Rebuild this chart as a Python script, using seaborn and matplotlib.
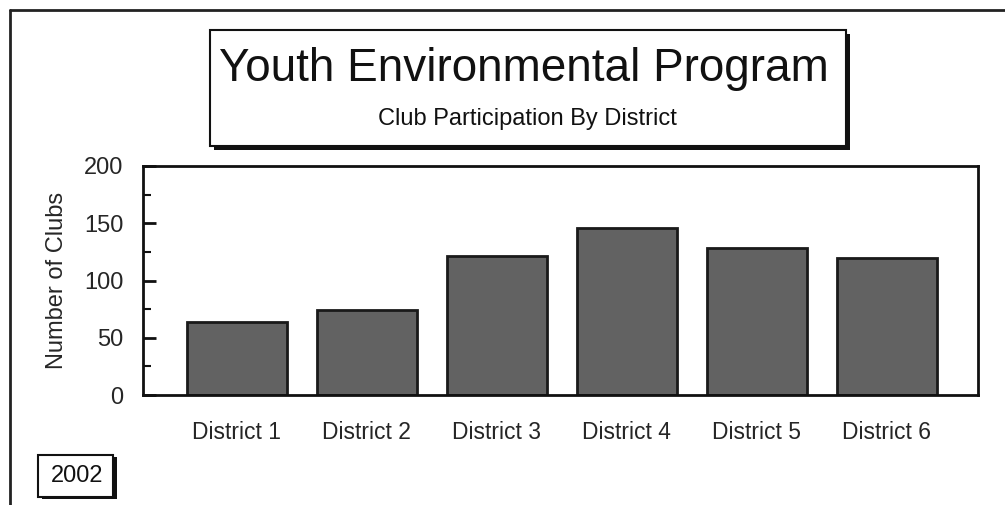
import pandas as pd
import seaborn as sns
import matplotlib.pyplot as plt
from matplotlib.patches import Rectangle
from matplotlib.lines import Line2D
from matplotlib.ticker import MultipleLocator

# values
districts = ["District 1", "District 2", "District 3", "District 4", "District 5", "District 6"]
clubs = [64, 74, 121, 146, 128, 120]

data = pd.DataFrame({"district": districts, "clubs": clubs})

sns.set_style("white")
plt.rcParams["font.family"] = ["Liberation Sans", "DejaVu Sans"]

fig = plt.figure(figsize=(10.05, 5.05), dpi=100)
ax = fig.add_axes([0.1423, 0.2178, 0.8307, 0.4535])

sns.barplot(x="district", y="clubs", data=data, color="#626262", saturation=1,
            width=0.77, edgecolor="#1a1a1a", linewidth=2, ax=ax)

ax.set_ylim(0, 200)
ax.set_xlim(-0.72, 5.7)
ax.yaxis.set_major_locator(MultipleLocator(50))
ax.yaxis.set_minor_locator(MultipleLocator(25))
ax.tick_params(axis="y", which="major", direction="in", length=9, width=2,
               labelsize=17, pad=14, left=True, color="#111111")
ax.tick_params(axis="y", which="minor", direction="in", length=6, width=1.5,
               left=True, color="#111111")
ax.tick_params(axis="x", length=0, labelsize=16.5, pad=19)
for s in ax.spines.values():
    s.set_color("#111111")
    s.set_linewidth(2)

ax.set_xlabel("")
ax.set_ylabel("Number of Clubs", fontsize=17, labelpad=12)

# outer frame lines (top and left)
fig.add_artist(Line2D([0.01, 1.0], [0.98, 0.98], color="#222222", lw=2, transform=fig.transFigure))
fig.add_artist(Line2D([0.01, 0.01], [0.0, 0.98], color="#222222", lw=2, transform=fig.transFigure))

# title box with shadow
W, H = 1005, 505
fig.add_artist(Rectangle((214 / W, 1 - 150 / H), 636 / W, 116 / H, facecolor="#111111",
                         edgecolor="none", transform=fig.transFigure))
fig.add_artist(Rectangle((210 / W, 1 - 146 / H), 636 / W, 116 / H, facecolor="white",
                         edgecolor="#111111", lw=1.5, transform=fig.transFigure))
fig.text(524 / W, 1 - 69 / H, "Youth Environmental Program", fontsize=33,
         ha="center", va="center", color="#111111")
fig.text(527 / W, 1 - 119 / H, "Club Participation By District", fontsize=17,
         ha="center", va="center", color="#111111")

# year box
fig.add_artist(Rectangle((42 / W, 1 - 499 / H), 75 / W, 42 / H, facecolor="#111111",
                         edgecolor="none", transform=fig.transFigure))
fig.add_artist(Rectangle((38 / W, 1 - 497 / H), 75 / W, 42 / H, facecolor="white",
                         edgecolor="#111111", lw=1.5, transform=fig.transFigure))
fig.text(77 / W, 1 - 476 / H, "2002", fontsize=17, ha="center", va="center", color="#111111")

plt.savefig("out.png", dpi=100)
